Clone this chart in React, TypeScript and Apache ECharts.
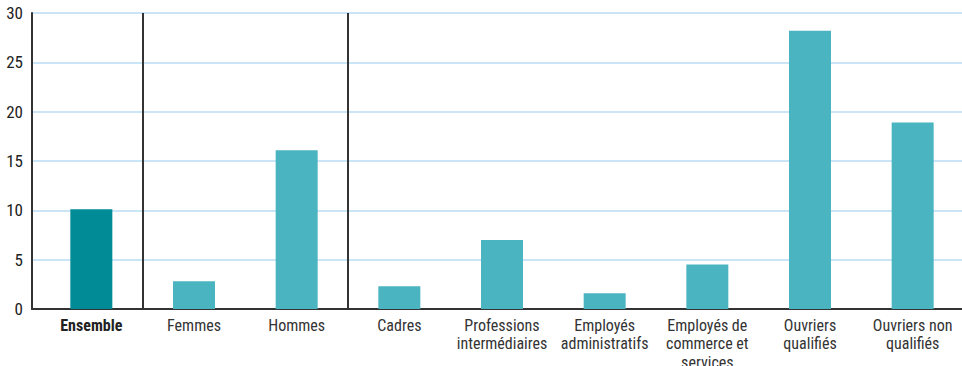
import React, { useEffect, useRef } from "react";
import * as echarts from "echarts";

const categories = [
  "Ensemble",
  "Femmes",
  "Hommes",
  "Cadres",
  "Professions\nintermédiaires",
  "Employés\nadministratifs",
  "Employés de\ncommerce et\nservices",
  "Ouvriers\nqualifiés",
  "Ouvriers non\nqualifiés",
];
const values = [10.1, 2.8, 16.1, 2.3, 7.0, 1.6, 4.5, 28.2, 18.9];
const highlightIndex = 0;
const separatorIndexes = [1, 3];
const yTicks = { min: 0, max: 30, interval: 5 };

const FONT = "'Roboto Condensed', 'Liberation Sans', Arial, sans-serif";

export default function App() {
  const ref = useRef<HTMLDivElement>(null);
  useEffect(() => {
    document.body.style.margin = "0";
    if (!ref.current) return;
    const chart = echarts.init(ref.current, undefined, { renderer: "svg" });
    chart.setOption({
      animation: false,
      backgroundColor: "#ffffff",
      grid: [
        { left: 32, right: 0, top: 13, bottom: 57, containLabel: false, outerBoundsMode: "none" },
        { left: 40, right: -2, top: 13, bottom: 57, containLabel: false, outerBoundsMode: "none" },
      ],
      xAxis: [
        {
          type: "value",
          gridIndex: 0,
          min: 0,
          max: 1,
          axisLine: { show: true, onZero: false, lineStyle: { color: "#333", width: 2 } },
          axisTick: { show: false },
          axisLabel: { show: false },
          splitLine: { show: false },
        },
        {
          type: "category",
          gridIndex: 1,
          data: categories,
          axisLine: { show: false },
          axisTick: { show: false },
          axisLabel: {
            interval: 0,
            margin: 7,
            color: "#333",
            fontSize: 16,
            lineHeight: 18.5,
            fontFamily: FONT,
            formatter: (v: string, i: number) => (i === highlightIndex ? `{b|${v}}` : v),
            rich: {
              b: { fontWeight: "bold", fontSize: 16, lineHeight: 18.5, fontFamily: FONT, color: "#222" },
            },
          },
          splitLine: {
            show: true,
            interval: (i: number) => separatorIndexes.includes(i),
            lineStyle: { color: "#333", width: 2 },
          },
        },
      ],
      yAxis: [
        {
          type: "value",
          gridIndex: 0,
          min: yTicks.min,
          max: yTicks.max,
          interval: yTicks.interval,
          axisLine: { show: true, lineStyle: { color: "#333", width: 2 } },
          axisTick: { show: false },
          axisLabel: { color: "#222", fontSize: 17, fontFamily: FONT, margin: 9 },
          splitLine: { show: true, lineStyle: { color: "#b8dcf2", width: 1.5 } },
        },
        {
          type: "value",
          gridIndex: 1,
          min: yTicks.min,
          max: yTicks.max,
          interval: yTicks.interval,
          show: false,
          splitLine: { show: false },
        },
      ],
      series: [
        {
          type: "bar",
          xAxisIndex: 1,
          yAxisIndex: 1,
          barWidth: 42,
          data: values.map((v, i) => ({
            value: v,
            itemStyle: { color: i === highlightIndex ? "#008b96" : "#4bb4c1" },
          })),
        },
      ],
    });
    return () => chart.dispose();
  }, []);
  return <div ref={ref} style={{ width: 962, height: 366 }} />;
}
